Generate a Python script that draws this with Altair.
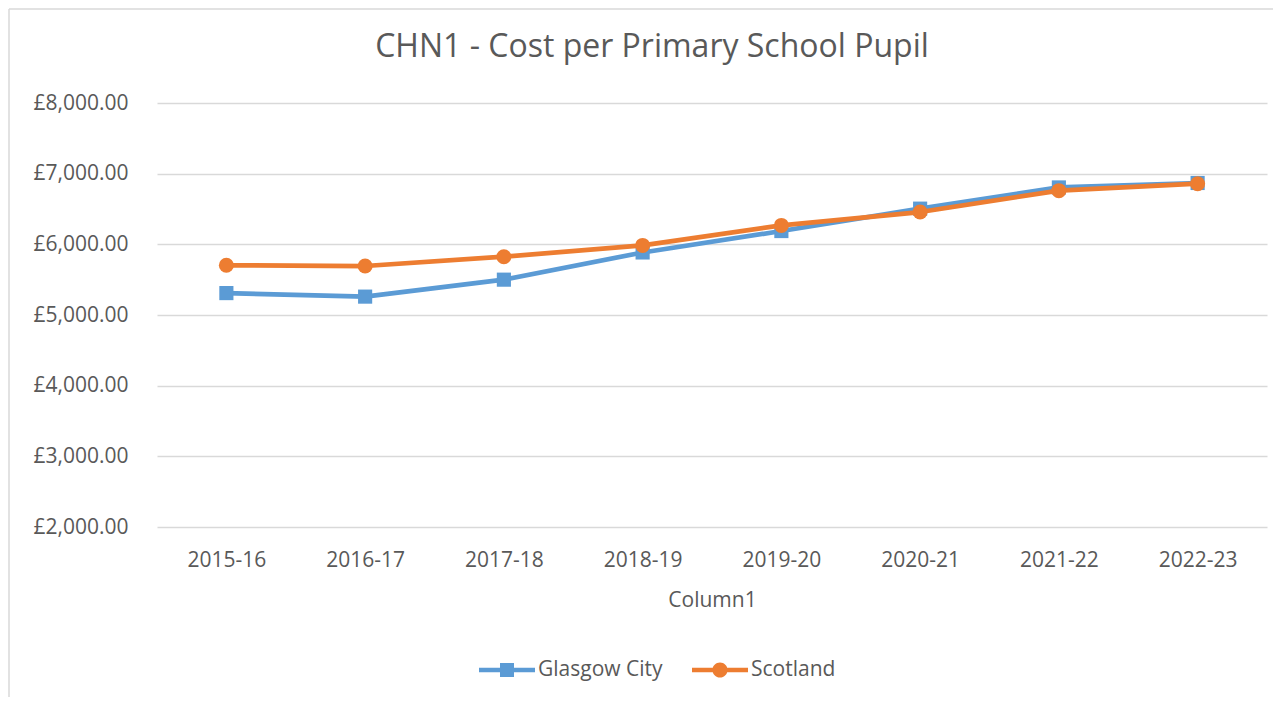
import altair as alt
import pandas as pd

years = ["2015-16", "2016-17", "2017-18", "2018-19", "2019-20", "2020-21", "2021-22", "2022-23"]
glasgow = [5310, 5260, 5500, 5885, 6188, 6505, 6805, 6868]
scotland = [5703, 5693, 5825, 5985, 6268, 6457, 6760, 6858]
series_names = ["Glasgow City", "Scotland"]
series_colors = ["#5B9BD5", "#ED7D31"]
y_ticks = [2000, 3000, 4000, 5000, 6000, 7000, 8000]

legend_paths = [
    "M-1,-0.08H1V0.08H-1Z M-0.25,-0.25H0.25V0.25H-0.25Z",
    "M-1,-0.08H-0.25V0.08H-1Z M0.25,-0.08H1V0.08H0.25Z M-0.27,0A0.27,0.27 0 1,1 0.27,0A0.27,0.27 0 1,1 -0.27,0Z",
]

df = pd.DataFrame({
    "year": years + years,
    "series": [series_names[0]] * len(years) + [series_names[1]] * len(years),
    "value": glasgow + scotland,
})

TXT = "#595959"
FONT = "Open Sans"

x_enc = alt.X(
    "year:N", sort=years,
    scale=alt.Scale(type="point", padding=0.5),
    axis=alt.Axis(title="Column1", labelAngle=0, ticks=False, domain=False, grid=False,
                  labelPadding=22, titlePadding=19, labelFontSize=21, titleFontSize=21,
                  labelColor=TXT, titleColor=TXT, titleFontWeight="normal",
                  labelFont=FONT, titleFont=FONT),
)
y_enc = alt.Y(
    "value:Q",
    scale=alt.Scale(domain=[2000, 8000], nice=False, zero=False),
    axis=alt.Axis(values=y_ticks, title=None,
                  labelExpr="'£' + format(datum.value, ',.2f')",
                  ticks=False, domain=False, labelPadding=29, grid=True,
                  gridColor="#D9D9D9", gridWidth=1.5, labelFontSize=21,
                  labelColor=TXT, labelFont=FONT),
)

base = alt.Chart(df).encode(x=x_enc, y=y_enc)

g_line = base.transform_filter(alt.datum.series == series_names[0]).mark_line(
    color=series_colors[0], strokeWidth=4.7, strokeJoin="round", strokeCap="round")
g_pts = base.transform_filter(alt.datum.series == series_names[0]).mark_point(
    shape="square", filled=True, size=200, opacity=1, color=series_colors[0])
s_line = base.transform_filter(alt.datum.series == series_names[1]).mark_line(
    color=series_colors[1], strokeWidth=4.7, strokeJoin="round", strokeCap="round")
s_pts = base.transform_filter(alt.datum.series == series_names[1]).mark_point(
    shape="circle", filled=True, size=225, opacity=1, color=series_colors[1])

leg = alt.Legend(title=None, orient="none", legendX=322, legendY=539, direction="horizontal",
                 symbolSize=3136, symbolStrokeWidth=0, labelFontSize=21, labelColor=TXT,
                 labelFont=FONT, columnPadding=29, labelOffset=3, padding=0)
legend_layer = alt.Chart(df).transform_filter("false").mark_point(filled=True, opacity=1).encode(
    shape=alt.Shape("series:N", scale=alt.Scale(domain=series_names, range=legend_paths), legend=leg),
    fill=alt.Fill("series:N", scale=alt.Scale(domain=series_names, range=series_colors), legend=leg),
)

border_df = pd.DataFrame({"k": [0]})
left_border = alt.Chart(border_df).mark_rule(color="#D9D9D9", strokeWidth=1.5).encode(
    x=alt.value(-148), y=alt.value(-94), y2=alt.value(594))
top_border = alt.Chart(border_df).mark_rule(color="#D9D9D9", strokeWidth=1.5).encode(
    x=alt.value(-148), x2=alt.value(1116), y=alt.value(-94))

chart = alt.layer(
    left_border, top_border, g_line, g_pts, s_line, s_pts, legend_layer
).properties(
    width=1110, height=424,
    autosize=alt.AutoSizeParams(type="none"),
    padding={"left": 149, "top": 95, "right": 6, "bottom": 170},
    title=alt.TitleParams(
        text="CHN1 - Cost per Primary School Pupil", anchor="middle", frame="group",
        dx=-60, fontSize=32, font=FONT, fontWeight="normal", color=TXT,
        baseline="alphabetic", offset=-81),
).configure_view(stroke=None)

chart.save("out.html", embed_options={"renderer": "svg", "actions": False})
